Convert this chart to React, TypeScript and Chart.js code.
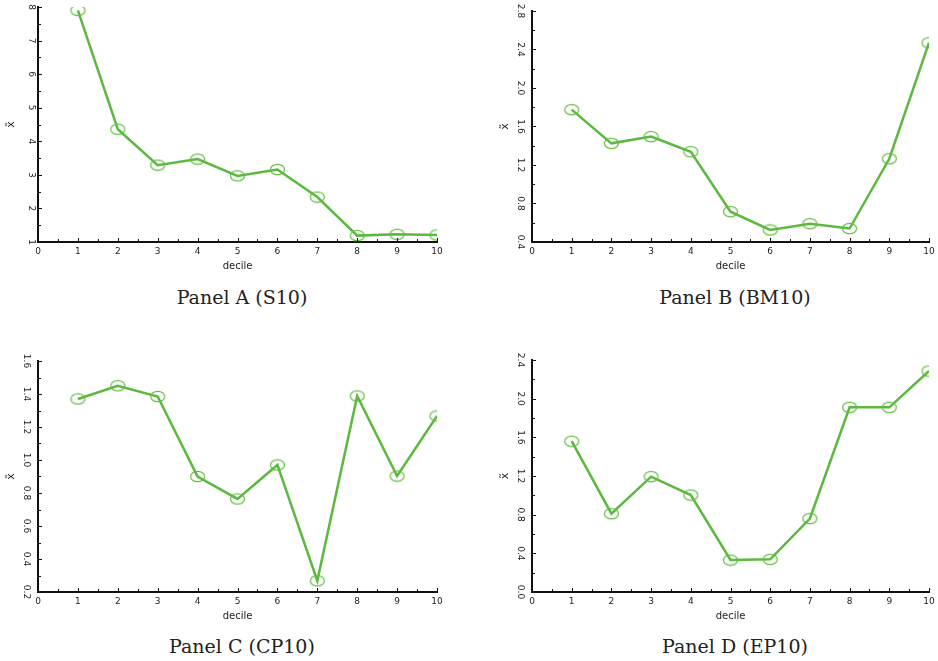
import React, { useEffect, useRef } from "react";
import { Chart, registerables } from "chart.js";

Chart.register(...registerables);

const deciles = [1, 2, 3, 4, 5, 6, 7, 8, 9, 10];
const valuesA = [7.9, 4.36, 3.29, 3.47, 2.97, 3.16, 2.34, 1.19, 1.23, 1.21];
const valuesB = [1.775, 1.425, 1.495, 1.338, 0.715, 0.525, 0.59, 0.54, 1.265, 2.47];
const valuesC = [1.37, 1.45, 1.385, 0.9, 0.764, 0.97, 0.268, 1.388, 0.903, 1.267];
const valuesD = [1.56, 0.81, 1.193, 1.003, 0.331, 0.338, 0.76, 1.91, 1.91, 2.286];

const yRangeA = [1, 8, 1];
const yRangeB = [0.4, 2.8, 0.4];
const yRangeC = [0.2, 1.6, 0.2];
const yRangeD = [0, 2.4, 0.4];

const titles = ["Panel A (S10)", "Panel B (BM10)", "Panel C (CP10)", "Panel D (EP10)"];
const xTitle = "decile";
const yTitle = "x\u0303";

const LINE = "#5cb83f";
const MARK = "#62bd42";
const SANS = "'DejaVu Sans', sans-serif";

function makeMarker() {
  const c = document.createElement("canvas");
  c.width = 17;
  c.height = 13;
  const ctx = c.getContext("2d")!;
  ctx.strokeStyle = MARK;
  ctx.lineWidth = 1.2;
  ctx.beginPath();
  ctx.ellipse(8.5, 6.5, 7, 5.2, 0, 0, Math.PI * 2);
  ctx.stroke();
  return c;
}

const tickPlugin = {
  id: "inwardTicks",
  afterDraw(chart: any, _args: any, opts: any) {
    const ctx = chart.ctx;
    const xs = chart.scales.x;
    const ys = chart.scales.y;
    const area = chart.chartArea;
    ctx.save();
    ctx.strokeStyle = "#111";
    ctx.lineWidth = 1;
    for (let i = 0; i <= 20; i++) {
      const v = xs.min + (i * (xs.max - xs.min)) / 20;
      const px = Math.round(xs.getPixelForValue(v)) + 0.5;
      const len = i % 2 === 0 ? 4 : 3;
      ctx.beginPath();
      ctx.moveTo(px, area.bottom);
      ctx.lineTo(px, area.bottom - len);
      ctx.stroke();
    }
    const step = opts.step / 2;
    const n = Math.round((ys.max - ys.min) / step);
    for (let i = 0; i <= n; i++) {
      const v = ys.min + i * step;
      const py = Math.round(ys.getPixelForValue(v)) + 0.5;
      const len = i % 2 === 0 ? 4 : 3;
      ctx.beginPath();
      ctx.moveTo(area.left, py);
      ctx.lineTo(area.left + len, py);
      ctx.stroke();
    }
    ctx.restore();
  },
};

type PanelProps = {
  values: number[];
  yRange: number[];
  decimals: number;
  canvasBox: { left: number; top: number; width: number; height: number };
  area: { l: number; t: number; r: number; b: number };
};

function Panel({ values, yRange, decimals, canvasBox, area }: PanelProps) {
  const ref = useRef<HTMLCanvasElement>(null);
  useEffect(() => {
    const yAxisW = 38;
    const xAxisH = canvasBox.top + canvasBox.height - area.b;
    const marker = makeMarker();
    const chart = new Chart(ref.current!, {
      type: "line",
      data: {
        datasets: [
          {
            data: deciles.map((d, i) => ({ x: d, y: values[i] })),
            borderColor: LINE,
            borderWidth: 2.5,
            tension: 0,
            fill: false,
            pointStyle: marker as any,
            pointRadius: 6,
            pointHoverRadius: 6,
          },
        ],
      },
      options: {
        animation: false,
        responsive: false,
        events: [],
        layout: {
          autoPadding: false,
          padding: {
            left: area.l - canvasBox.left - yAxisW,
            top: area.t - canvasBox.top,
            right: canvasBox.left + canvasBox.width - area.r,
            bottom: 0,
          },
        },
        plugins: {
          legend: { display: false },
          tooltip: { enabled: false },
          inwardTicks: { step: yRange[2] },
        } as any,
        scales: {
          x: {
            type: "linear",
            min: 0,
            max: 10,
            grid: { display: false, drawTicks: false },
            border: { display: true, color: "#111", width: 2 },
            ticks: {
              stepSize: 1,
              padding: 4,
              maxRotation: 0,
              color: "#222",
              font: { family: SANS, size: 9 },
            },
            title: {
              display: true,
              text: xTitle,
              color: "#222",
              font: { family: SANS, size: 10 },
              padding: { top: 0, bottom: 8 },
            },
            afterFit(s: any) {
              s.height = xAxisH;
              s.paddingLeft = 0;
              s.paddingRight = 0;
            },
          },
          y: {
            type: "linear",
            min: yRange[0],
            max: yRange[1],
            grid: { display: false, drawTicks: false },
            border: { display: true, color: "#111", width: 2 },
            ticks: {
              stepSize: yRange[2],
              padding: 4,
              minRotation: -90,
              maxRotation: -90,
              crossAlign: "center",
              color: "#222",
              font: { family: SANS, size: 9 },
              callback: (v: any) => Number(v).toFixed(decimals),
            },
            title: {
              display: true,
              text: yTitle,
              color: "#222",
              font: { family: SANS, size: 11 },
              padding: { top: 5, bottom: 0 },
            },
            afterFit(s: any) {
              s.width = yAxisW;
              s.paddingTop = 0;
              s.paddingBottom = 0;
            },
          },
        },
      },
      plugins: [tickPlugin],
    });
    return () => chart.destroy();
  }, []);
  return (
    <canvas
      ref={ref}
      width={canvasBox.width}
      height={canvasBox.height}
      style={{ position: "absolute", left: canvasBox.left, top: canvasBox.top, width: canvasBox.width, height: canvasBox.height }}
    />
  );
}

function Caption({ text, cx, cy }: { text: string; cx: number; cy: number }) {
  return (
    <div
      style={{
        position: "absolute",
        left: cx - 150,
        top: cy - 12,
        width: 300,
        height: 24,
        lineHeight: "24px",
        textAlign: "center",
        fontFamily: "'DejaVu Serif', serif",
        fontSize: 19,
        color: "#222",
      }}
    >
      {text}
    </div>
  );
}

export default function App() {
  return (
    <div style={{ position: "fixed", left: 0, top: 0, width: 938, height: 661, background: "#fff", overflow: "hidden" }}>
      <Panel values={valuesA} yRange={yRangeA} decimals={0}
        canvasBox={{ left: 0, top: 0, width: 469, height: 280 }} area={{ l: 38, t: 7, r: 437, b: 242 }} />
      <Panel values={valuesB} yRange={yRangeB} decimals={1}
        canvasBox={{ left: 469, top: 0, width: 469, height: 280 }} area={{ l: 532, t: 11, r: 929, b: 242 }} />
      <Panel values={valuesC} yRange={yRangeC} decimals={1}
        canvasBox={{ left: 0, top: 330, width: 469, height: 300 }} area={{ l: 38, t: 361, r: 437, b: 592 }} />
      <Panel values={valuesD} yRange={yRangeD} decimals={1}
        canvasBox={{ left: 469, top: 330, width: 469, height: 300 }} area={{ l: 532, t: 360, r: 929, b: 592 }} />
      <Caption text={titles[0]} cx={242} cy={297} />
      <Caption text={titles[1]} cx={735} cy={297} />
      <Caption text={titles[2]} cx={242} cy={646} />
      <Caption text={titles[3]} cx={735} cy={646} />
    </div>
  );
}
